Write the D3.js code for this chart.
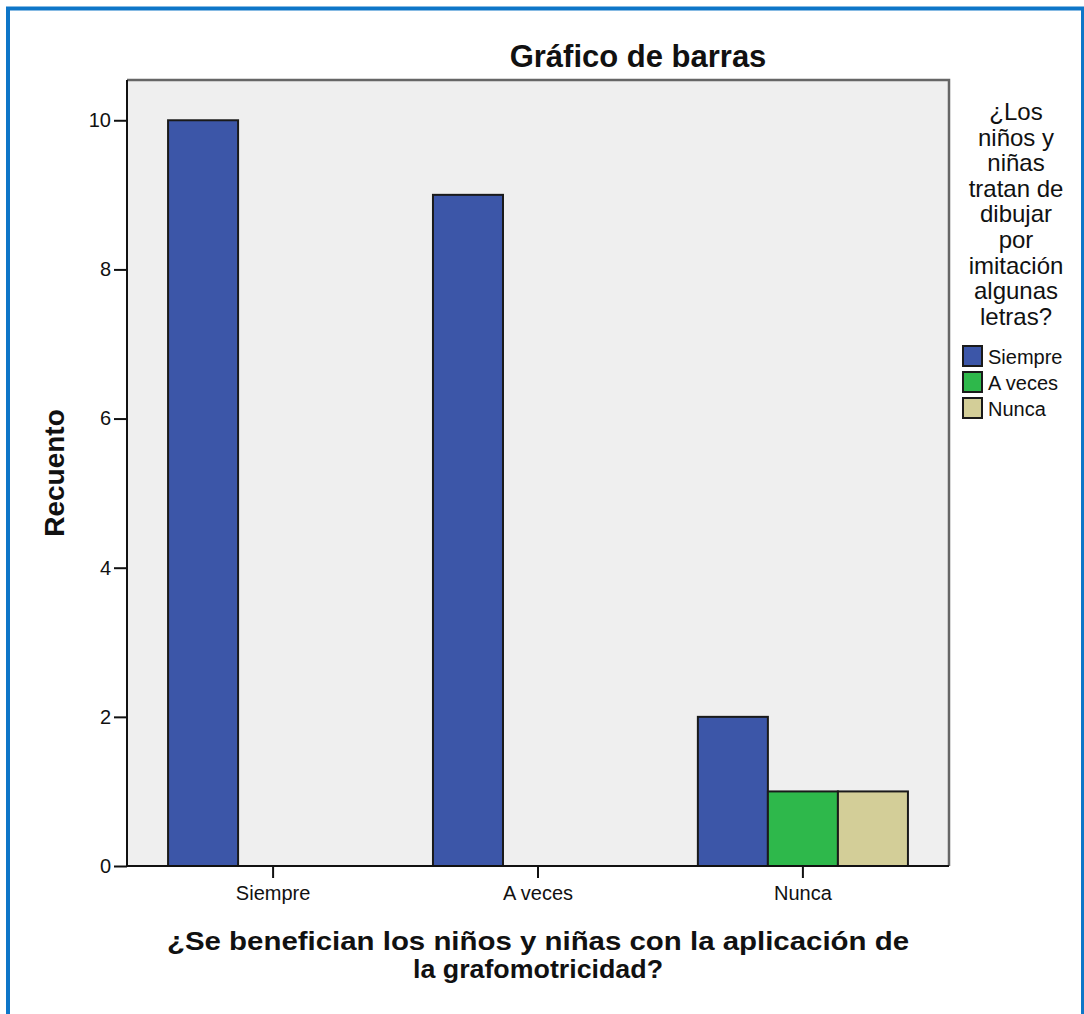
<!DOCTYPE html>
<html>
<head>
<meta charset="utf-8">
<script src="https://cdn.jsdelivr.net/npm/d3@7"></script>
<style>
  html, body { margin: 0; padding: 0; background: #fff; }
  svg { display: block; font-family: "Liberation Sans", Arial, sans-serif; }
</style>
</head>
<body>
<svg id="chart" width="1084" height="1014"></svg>
<script>
// Counts per answer group (x axis), split by the legend question
const categories = ["Siempre", "A veces", "Nunca"];
const seriesNames = ["Siempre", "A veces", "Nunca"];
const siempreCounts = [10, 9, 2];
const aVecesCounts = [0, 0, 1];
const nuncaCounts = [0, 0, 1];
const yTicks = [0, 2, 4, 6, 8, 10];
const seriesColors = ["#3c56a8", "#2eb84b", "#d3ce98"];

const titleText = "Gráfico de barras";
const yLabel = "Recuento";
const xLabelLines = ["¿Se benefician los niños y niñas con la aplicación de", "la grafomotricidad?"];
const legendTitleLines = ["¿Los", "niños y", "niñas", "tratan de", "dibujar", "por", "imitación", "algunas", "letras?"];

const seriesValues = [siempreCounts, aVecesCounts, nuncaCounts];
const rows = categories.map((c, i) => ({
  category: c,
  values: seriesNames.map((s, j) => ({ series: s, index: j, value: seriesValues[j][i] }))
}));

const svg = d3.select("#chart");

// Outer frame
svg.append("rect")
  .attr("x", 8).attr("y", 8.5)
  .attr("width", 1075).attr("height", 1020)
  .attr("fill", "none").attr("stroke", "#0e76c8").attr("stroke-width", 4);

const plot = { left: 127, right: 949, top: 80, bottom: 866 };

const y = d3.scaleLinear().domain([0, 10.54]).range([plot.bottom, plot.top]);
const x0 = d3.scaleBand().domain(categories).range([plot.left, plot.right])
  .paddingInner(0.207).paddingOuter(0.155);
const x1 = d3.scaleBand().domain(seriesNames).range([0, x0.bandwidth()]).padding(0);
const color = d3.scaleOrdinal().domain(seriesNames).range(seriesColors);

// Plot background
svg.append("rect")
  .attr("x", plot.left).attr("y", plot.top)
  .attr("width", plot.right - plot.left).attr("height", plot.bottom - plot.top)
  .attr("fill", "#efefef");
svg.append("path")
  .attr("d", `M${plot.left},${plot.top}H${plot.right}V${plot.bottom}`)
  .attr("fill", "none").attr("stroke", "#666").attr("stroke-width", 2.5);

// Bars
svg.append("g").selectAll("g")
  .data(rows).join("g")
  .attr("transform", d => `translate(${x0(d.category)},0)`)
  .selectAll("rect")
  .data(d => d.values.filter(v => v.value > 0))
  .join("rect")
  .attr("x", d => x1(d.series))
  .attr("y", d => y(d.value))
  .attr("width", x1.bandwidth())
  .attr("height", d => y(0) - y(d.value))
  .attr("fill", d => color(d.series))
  .attr("stroke", "#1a1a1a").attr("stroke-width", 2);

// Axes
const yAxis = svg.append("g")
  .attr("transform", `translate(${plot.left},0)`)
  .call(d3.axisLeft(y).tickValues(yTicks).tickSize(13).tickPadding(3).tickFormat(d3.format("d")));
yAxis.select(".domain").remove();
yAxis.selectAll(".tick line").attr("stroke", "#111").attr("stroke-width", 2);
yAxis.selectAll(".tick text").attr("font-size", 20).attr("fill", "#111")
  .attr("font-family", "Liberation Sans, Arial, sans-serif");

const xAxis = svg.append("g")
  .attr("transform", `translate(0,${plot.bottom})`)
  .call(d3.axisBottom(x0).tickSize(12).tickPadding(8));
xAxis.select(".domain").remove();
xAxis.selectAll(".tick line").attr("stroke", "#111").attr("stroke-width", 2);
xAxis.selectAll(".tick text").attr("font-size", 20).attr("fill", "#111")
  .attr("font-family", "Liberation Sans, Arial, sans-serif");

svg.append("path")
  .attr("d", `M${plot.left},${plot.top}V${plot.bottom}H${plot.right}`)
  .attr("fill", "none").attr("stroke", "#111").attr("stroke-width", 2);

// Title, centred over plot and legend
svg.append("text")
  .attr("x", 638).attr("y", 67)
  .attr("text-anchor", "middle").attr("font-size", 31).attr("font-weight", "bold")
  .attr("fill", "#111").text(titleText);

// Y label
svg.append("text")
  .attr("transform", `translate(64,${(plot.top + plot.bottom) / 2}) rotate(-90)`)
  .attr("text-anchor", "middle").attr("font-size", 28).attr("font-weight", "bold")
  .attr("fill", "#111").text(yLabel);

// X label (two lines, slightly condensed)
svg.append("g").selectAll("text")
  .data(xLabelLines).join("text")
  .attr("x", (plot.left + plot.right) / 2)
  .attr("y", (d, i) => 950 + i * 28)
  .attr("text-anchor", "middle").attr("font-size", 25).attr("font-weight", "bold")
  .attr("textLength", (d, i) => i === 0 ? 742 : 250)
  .attr("lengthAdjust", "spacingAndGlyphs")
  .attr("fill", "#111").text(d => d);

// Legend
const legend = svg.append("g");
legend.selectAll("text.lt")
  .data(legendTitleLines).join("text")
  .attr("class", "lt")
  .attr("x", 1016).attr("y", (d, i) => 120 + i * 25.6)
  .attr("text-anchor", "middle").attr("font-size", 24).attr("fill", "#111")
  .text(d => d);

const items = legend.selectAll("g.item")
  .data(seriesNames).join("g").attr("class", "item")
  .attr("transform", (d, i) => `translate(963,${346 + i * 26})`);
items.append("rect")
  .attr("width", 19).attr("height", 20)
  .attr("fill", d => color(d)).attr("stroke", "#1a1a1a").attr("stroke-width", 2);
items.append("text")
  .attr("x", 25).attr("y", 18)
  .attr("font-size", 20).attr("fill", "#111").text(d => d);
</script>
</body>
</html>
